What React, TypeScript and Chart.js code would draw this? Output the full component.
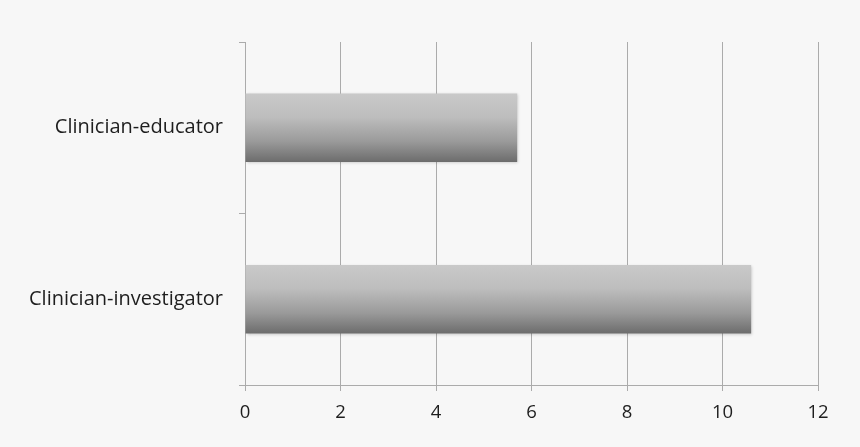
import React, { useEffect, useRef } from "react";
import { Chart, registerables } from "chart.js";

Chart.register(...registerables);

const categories = ["Clinician-educator", "Clinician-investigator"];
const values = [5.7, 10.6];
const xTicks = [0, 2, 4, 6, 8, 10, 12];

const FONT = "'Open Sans', 'DejaVu Sans', sans-serif";
const GRID = "#ababab";

export default function App() {
  const ref = useRef<HTMLCanvasElement | null>(null);

  useEffect(() => {
    document.body.style.margin = "0";
    document.body.style.background = "#f7f7f7";
    const canvas = ref.current!;
    const shadowPlugin = {
      id: "barShadow",
      beforeDatasetsDraw(chart: any) {
        const ctx = chart.ctx;
        ctx.save();
        ctx.shadowColor = "rgba(0,0,0,0.22)";
        ctx.shadowBlur = 3;
        ctx.shadowOffsetX = 1;
        ctx.shadowOffsetY = 1;
      },
      afterDatasetsDraw(chart: any) {
        chart.ctx.restore();
      },
    };
    const chart = new Chart(canvas, {
      type: "bar",
      data: {
        labels: categories,
        datasets: [
          {
            data: values,
            barPercentage: 0.4,
            categoryPercentage: 1,
            borderWidth: 0,
            backgroundColor: (c: any) => {
              const ch = c.chart;
              const y = ch.scales?.y;
              if (!y || c.dataIndex === undefined) return "#999";
              const center = y.getPixelForValue(c.dataIndex);
              const band = (y.bottom - y.top) / categories.length;
              const half = (band * 0.4) / 2;
              if (!isFinite(center) || !isFinite(half) || half <= 0) return "#999";
              const g = ch.ctx.createLinearGradient(0, center - half, 0, center + half);
              g.addColorStop(0, "#c9c9c9");
              g.addColorStop(0.35, "#bdbdbd");
              g.addColorStop(0.7, "#9a9a9a");
              g.addColorStop(1, "#6c6c6c");
              return g;
            },
          },
        ],
      },
      options: {
        indexAxis: "y",
        animation: false,
        responsive: false,
        maintainAspectRatio: false,
        layout: { padding: { top: 42, right: 42, left: 0, bottom: 0 } },
        plugins: { legend: { display: false }, tooltip: { enabled: false } },
        scales: {
          x: {
            min: 0,
            max: 12,
            afterBuildTicks: (s: any) => {
              s.ticks = xTicks.map((v) => ({ value: v }));
            },
            afterFit: (s: any) => {
              s.height = 62;
            },
            grid: {
              color: GRID,
              lineWidth: 1,
              tickLength: 6,
              drawTicks: true,
            },
            border: { display: true, color: GRID, width: 1 },
            ticks: {
              color: "#1e1e1e",
              padding: 11,
              font: { family: FONT, size: 18.5 },
            },
          },
          y: {
            afterFit: (s: any) => {
              s.width = 245;
            },
            grid: {
              offset: true,
              drawOnChartArea: false,
              color: GRID,
              tickLength: 6,
            },
            border: { display: true, color: GRID, width: 1 },
            ticks: {
              color: "#1e1e1e",
              padding: 16,
              font: { family: FONT, size: 20 },
            },
          },
        },
      },
      plugins: [shadowPlugin],
    } as any);
    chart.update();
    return () => chart.destroy();
  }, []);

  return (
    <div style={{ width: 860, height: 447, background: "#f7f7f7" }}>
      <canvas ref={ref} width={860} height={447} style={{ display: "block" }} />
    </div>
  );
}
